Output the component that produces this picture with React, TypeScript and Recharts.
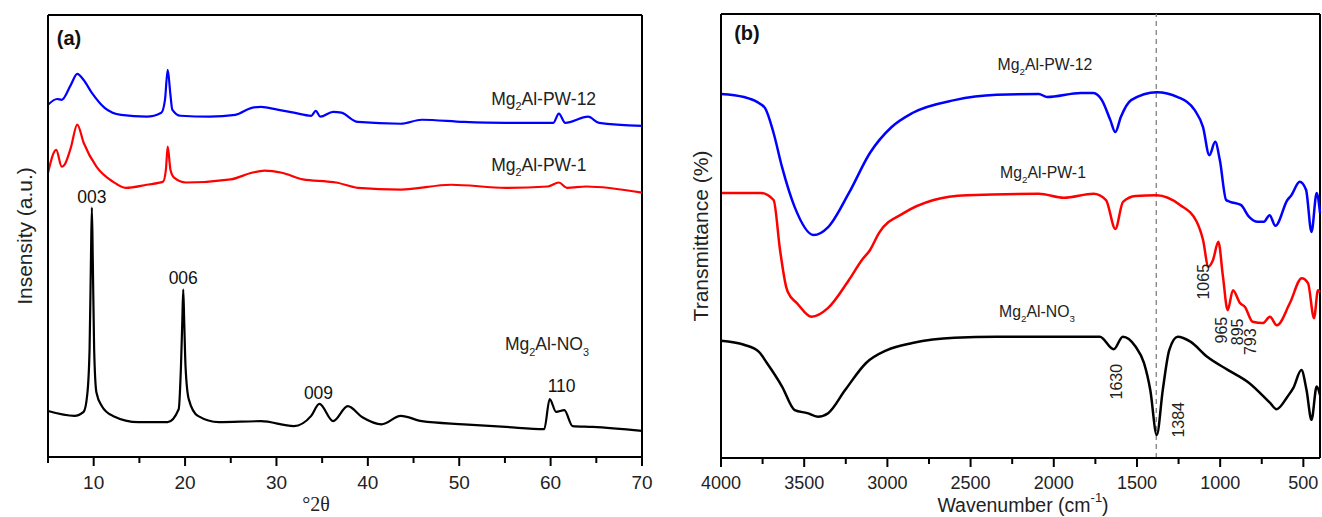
import { LineChart, Line, XAxis, YAxis, ReferenceLine, ReferenceDot, Label } from 'recharts'

const FONT = '"Liberation Sans", Arial, Helvetica, sans-serif'

// ---- (a) XRD patterns: [2θ, intensity (a.u., offset)] ----
const xrdPW12: [number, number][] = [
  [5, 79.7], [6.0, 81.0], [6.5, 80.8], [7.5, 84.2], [8.2, 86.7], [8.9, 85.3], [9.8, 82.4], [11.2, 79.0],
  [13.0, 77.4], [15.8, 77.0], [17.4, 77.9], [17.8, 80.8], [18.1, 87.6], [18.4, 81.9],
  [18.6, 78.6], [19.5, 77.2], [22.7, 77.0], [25.5, 77.4], [27.3, 79.0], [28.3, 79.2],
  [30.1, 78.6], [31.9, 77.9], [33.8, 77.2], [34.3, 78.3], [34.8, 77.0], [36.2, 78.1],
  [37.1, 77.9], [38.9, 75.8], [43.6, 75.4], [45.9, 76.3], [50.5, 75.8], [55.1, 75.6],
  [60.3, 75.6], [60.9, 77.7], [61.6, 75.6], [64.1, 77.0], [65.3, 75.6], [70, 74.9],
]

const xrdPW1: [number, number][] = [
  [5, 64.3], [5.9, 69.5], [6.5, 65.7], [6.8, 66.1], [7.5, 70.0], [8.2, 75.2], [8.9, 71.1],
  [10.3, 65.7], [12.1, 62.3], [13.5, 60.9], [15.8, 61.6], [17.6, 62.3], [17.9, 65.0],
  [18.1, 70.2], [18.4, 65.0], [18.8, 63.2], [20.1, 62.1], [25, 62.8], [27.3, 64.3],
  [28.7, 64.8], [30.6, 64.3], [32.9, 62.8], [35.6, 62.3], [36.5, 62.1], [38.9, 60.9],
  [43.6, 60.5], [49.1, 61.6], [55.1, 60.9], [59.7, 61.2], [60.9, 62.1], [61.8, 60.9],
  [63.9, 61.2], [70, 59.8],
]

const xrdNO3: [number, number][] = [
  [5, 10.4], [7.9, 9.3], [8.9, 10.2], [9.3, 14.2], [9.55, 24.4], [9.7, 44.7], [9.8, 56.4],
  [9.9, 44.7], [10.05, 24.4], [10.3, 14.6], [10.9, 11.5], [12.1, 9.3], [14.9, 7.9],
  [18.1, 7.9], [19.3, 10.8], [19.55, 20.5], [19.7, 31.0], [19.8, 37.9], [19.9, 31.0],
  [20.05, 20.5], [20.4, 13.1], [21.4, 9.3], [23.7, 7.9], [28.3, 8.1],
  [31.9, 7.0], [33.8, 9.3], [34.7, 12.0], [36.2, 8.1], [37.8, 11.5], [39.4, 9.0],
  [41.5, 7.4], [43.6, 9.3], [45.9, 8.1], [50.5, 7.4], [55.1, 6.8], [59.3, 6.3],
  [59.9, 13.1], [60.6, 10.2], [61.5, 10.6], [62.4, 7.0], [64.6, 6.8], [70, 5.9],
]

const xrdTicks = [5, 10, 15, 20, 25, 30, 35, 40, 45, 50, 55, 60, 65, 70]

// ---- (b) FTIR spectra: [wavenumber, transmittance (a.u., offset)] ----
const irPW12: [number, number][] = [
  [4000, 82.0], [3862, 81.3], [3784, 80.2], [3735, 78.8], [3684, 73.2], [3633, 65.5],
  [3557, 56.5], [3443, 50.2], [3356, 52.0], [3231, 59.7], [3105, 68.7], [2976, 74.5],
  [2850, 77.7], [2597, 80.6], [2344, 81.8], [2090, 82.0], [2040, 81.3], [1837, 82.2],
  [1762, 82.2], [1711, 80.6], [1660, 76.1], [1630, 73.4], [1597, 76.8], [1535, 80.6],
  [1381, 82.4], [1255, 81.3], [1154, 78.4], [1103, 74.5], [1065, 68.2], [1030, 71.2],
  [1002, 67.1], [964, 58.1], [940, 57.7], [876, 57.0], [826, 54.3], [775, 53.2],
  [737, 53.2], [703, 54.7], [668, 52.3], [596, 58.1], [572, 59.2], [522, 62.2],
  [484, 60.4], [451, 50.9], [420, 59.7], [400, 55.2],
]

const irPW1: [number, number][] = [
  [4000, 59.7], [3760, 59.7], [3684, 58.1], [3645, 46.8], [3608, 38.5], [3596, 37.2],
  [3544, 34.9], [3456, 31.8], [3356, 33.8], [3231, 40.1], [3153, 44.6], [3105, 46.8],
  [3050, 50.7], [2900, 55.2], [2722, 58.1], [2521, 59.2], [2090, 59.5], [1939, 58.6],
  [1761, 59.5], [1686, 58.1], [1630, 51.6], [1584, 57.7], [1508, 59.0], [1382, 59.2],
  [1241, 57.0], [1141, 53.2], [1103, 49.1], [1071, 43.1], [1043, 44.6], [1011, 48.7],
  [983, 40.8], [955, 33.3], [923, 37.8], [881, 34.9], [851, 34.0], [805, 30.7],
  [743, 30.4], [701, 31.8], [659, 29.9], [581, 34.9], [510, 40.5], [472, 39.4],
  [436, 31.5], [412, 37.8], [400, 37.4],
]

const irNO3: [number, number][] = [
  [4000, 26.4], [3862, 25.5], [3772, 23.9], [3724, 21.4], [3633, 16.1], [3557, 10.8],
  [3481, 10.1], [3418, 9.3], [3356, 10.1], [3254, 15.3], [3128, 21.4], [3002, 24.3],
  [2850, 25.9], [2597, 27.1], [2344, 27.3], [1838, 27.3], [1723, 27.3], [1640, 24.5],
  [1585, 27.3], [1509, 25.1], [1458, 21.4], [1420, 15.3], [1381, 5.2], [1345, 15.3],
  [1306, 24.3], [1255, 27.3], [1179, 26.2], [1078, 22.8], [952, 19.8], [826, 16.9],
  [700, 12.4], [661, 11.0], [596, 13.8], [560, 15.8], [512, 19.8], [481, 15.3],
  [451, 8.6], [420, 16.1], [400, 14.2],
]

const irTicks = [4000, 3750, 3500, 3250, 3000, 2750, 2500, 2250, 2000, 1750, 1500, 1250, 1000, 750, 500]

// text parts: [text, isSubscript]
type Part = [string, boolean]
const namePW12: Part[] = [['Mg', false], ['2', true], ['Al-PW-12', false]]
const namePW1: Part[] = [['Mg', false], ['2', true], ['Al-PW-1', false]]
const nameNO3: Part[] = [['Mg', false], ['2', true], ['Al-NO', false], ['3', true]]

// annotation anchors [x, y] in data units
const xrdNotes: { at: [number, number]; text: string }[] = [
  { at: [9.8, 58.9], text: '003' },
  { at: [19.8, 40.4], text: '006' },
  { at: [34.6, 14.4], text: '009' },
  { at: [61.2, 16.0], text: '110' },
]
const xrdNames: { at: [number, number]; parts: Part[] }[] = [
  { at: [53.5, 81.0], parts: namePW12 },
  { at: [53.5, 66.1], parts: namePW1 },
  { at: [55.0, 25.5], parts: nameNO3 },
]
const irNames: { at: [number, number]; parts: Part[] }[] = [
  { at: [2053, 88.5], parts: namePW12 },
  { at: [2065, 64.2], parts: namePW1 },
  { at: [2101, 32.9], parts: nameNO3 },
]
const irBands: { at: [number, number]; text: string }[] = [
  { at: [1622, 17.2], text: '1630' },
  { at: [1250, 8.6], text: '1384' },
  { at: [1103, 39.7], text: '1065' },
  { at: [991, 28.8], text: '965' },
  { at: [893, 28.4], text: '895' },
  { at: [817, 26.2], text: '793' },
]

const toPts = (arr: [number, number][]) => arr.map(([x, v]) => ({ x, v }))

function partsSpans(parts: Part[], size: number) {
  let prev = false
  return parts.map(([t, sub], i) => {
    const dy = sub === prev ? 0 : sub ? size * 0.3 : -size * 0.3
    prev = sub
    return (
      <tspan key={i} dy={dy} fontSize={sub ? size * 0.62 : size}>
        {t}
      </tspan>
    )
  })
}

const makeTick = (isMajor: (v: number) => boolean, size: number) => (props: any) => {
  const { x, y, payload } = props
  const major = isMajor(payload.value)
  return (
    <g>
      <line x1={x} x2={x} y1={y} y2={y + (major ? 9 : 6)} stroke="#000" strokeWidth={2} />
      {major && (
        <text x={x} y={y + 25} textAnchor="middle" dominantBaseline="central" fontSize={size} fill="#222" fontFamily={FONT}>
          {payload.value}
        </text>
      )}
    </g>
  )
}

const tickA = makeTick((v) => v % 10 === 0, 19)
const tickB = makeTick((v) => v % 500 === 0, 18)

const axisLine = { stroke: '#000', strokeWidth: 2 }

function App() {
  return (
    <div style={{ position: 'absolute', left: 0, top: 0, width: 1322, height: 517, background: '#fff', fontFamily: FONT }}>
      {/* (a) XRD */}
      <div style={{ position: 'absolute', left: 0, top: 0 }}>
        <LineChart width={660} height={517} margin={{ top: 15, right: 18, bottom: 0, left: 0 }}>
          <XAxis
            dataKey="x"
            type="number"
            domain={[5, 70]}
            ticks={xrdTicks}
            interval={0}
            tick={tickA}
            tickLine={false}
            tickSize={0}
            tickMargin={0}
            axisLine={axisLine}
            height={60}
          >
            <Label
              content={({ viewBox }: any) => (
                <text x={viewBox.x + 268} y={viewBox.y + 47} textAnchor="middle" dominantBaseline="central" fontSize={20} fill="#222" fontFamily='"Liberation Serif", "Times New Roman", serif'>
                  °2θ
                </text>
              )}
            />
          </XAxis>
          <YAxis domain={[0, 100]} type="number" tick={false} tickLine={false} axisLine={axisLine} width={48}>
            <Label
              content={({ viewBox }: any) => {
                const cx = viewBox.x + 24
                const cy = viewBox.y + viewBox.height / 2
                return (
                  <text x={cx} y={cy} transform={`rotate(-90 ${cx} ${cy})`} textAnchor="middle" dominantBaseline="central" fontSize={21} fill="#222" fontFamily={FONT}>
                    Insensity (a.u.)
                  </text>
                )
              }}
            />
          </YAxis>
          <ReferenceLine y={100} stroke="#000" strokeWidth={2} />
          <ReferenceLine x={70} stroke="#000" strokeWidth={2} />
          <Line data={toPts(xrdPW12)} dataKey="v" type="monotone" stroke="#0000ff" strokeWidth={2.2} dot={false} isAnimationActive={false} />
          <Line data={toPts(xrdPW1)} dataKey="v" type="monotone" stroke="#ff0000" strokeWidth={2.2} dot={false} isAnimationActive={false} />
          <Line data={toPts(xrdNO3)} dataKey="v" type="monotone" stroke="#000000" strokeWidth={2.2} dot={false} isAnimationActive={false} />
          <ReferenceDot
            x={7.3}
            y={94.8}
            r={0}
            shape={(p: any) => (
              <text x={p.cx} y={p.cy} textAnchor="middle" dominantBaseline="central" fontSize={20} fontWeight="bold" fill="#111" fontFamily={FONT}>
                (a)
              </text>
            )}
          />
          {xrdNotes.map((n) => (
            <ReferenceDot
              key={n.text}
              x={n.at[0]}
              y={n.at[1]}
              r={0}
              shape={(p: any) => (
                <text x={p.cx} y={p.cy} textAnchor="middle" dominantBaseline="central" fontSize={17.5} fill="#111" fontFamily={FONT}>
                  {n.text}
                </text>
              )}
            />
          ))}
          {xrdNames.map((n, i) => (
            <ReferenceDot
              key={i}
              x={n.at[0]}
              y={n.at[1]}
              r={0}
              shape={(p: any) => (
                <text x={p.cx} y={p.cy + 6} textAnchor="start" fill="#222" fontFamily={FONT}>
                  {partsSpans(n.parts, 17.5)}
                </text>
              )}
            />
          ))}
        </LineChart>
      </div>

      {/* (b) FTIR */}
      <div style={{ position: 'absolute', left: 660, top: 0 }}>
        <LineChart width={662} height={517} margin={{ top: 14, right: 2, bottom: 0, left: 0 }}>
          <XAxis
            dataKey="x"
            type="number"
            domain={[400, 4000]}
            reversed
            ticks={irTicks}
            interval={0}
            tick={tickB}
            tickLine={false}
            tickSize={0}
            tickMargin={0}
            axisLine={axisLine}
            height={59}
          >
            <Label
              content={({ viewBox }: any) => {
                const cx = viewBox.x + 302
                const cy = viewBox.y + 47
                return (
                  <text x={cx} y={cy} textAnchor="middle" dominantBaseline="central" fill="#222" fontFamily={FONT}>
                    <tspan fontSize={19.5}>Wavenumber (cm</tspan>
                    <tspan fontSize={13} dy={-8}>-1</tspan>
                    <tspan fontSize={19.5} dy={8}>)</tspan>
                  </text>
                )
              }}
            />
          </XAxis>
          <YAxis domain={[0, 100]} type="number" tick={false} tickLine={false} axisLine={axisLine} width={61}>
            <Label
              content={({ viewBox }: any) => {
                const cx = viewBox.x + 40
                const cy = viewBox.y + viewBox.height / 2
                return (
                  <text x={cx} y={cy} transform={`rotate(-90 ${cx} ${cy})`} textAnchor="middle" dominantBaseline="central" fontSize={21} fill="#222" fontFamily={FONT}>
                    Transmittance (%)
                  </text>
                )
              }}
            />
          </YAxis>
          <ReferenceLine y={100} stroke="#000" strokeWidth={2} />
          <ReferenceLine x={400} stroke="#000" strokeWidth={2} />
          <ReferenceLine x={1384} stroke="#808080" strokeWidth={1.3} strokeDasharray="5 4" />
          <Line data={toPts(irPW12)} dataKey="v" type="monotone" stroke="#0000ff" strokeWidth={2.5} dot={false} isAnimationActive={false} />
          <Line data={toPts(irPW1)} dataKey="v" type="monotone" stroke="#ff0000" strokeWidth={2.5} dot={false} isAnimationActive={false} />
          <Line data={toPts(irNO3)} dataKey="v" type="monotone" stroke="#000000" strokeWidth={2.5} dot={false} isAnimationActive={false} />
          <ReferenceDot
            x={3844}
            y={95.7}
            r={0}
            shape={(p: any) => (
              <text x={p.cx} y={p.cy} textAnchor="middle" dominantBaseline="central" fontSize={20} fontWeight="bold" fill="#111" fontFamily={FONT}>
                (b)
              </text>
            )}
          />
          {irNames.map((n, i) => (
            <ReferenceDot
              key={i}
              x={n.at[0]}
              y={n.at[1]}
              r={0}
              shape={(p: any) => (
                <text x={p.cx} y={p.cy + 5} textAnchor="middle" fill="#222" fontFamily={FONT}>
                  {partsSpans(n.parts, 15.8)}
                </text>
              )}
            />
          ))}
          {irBands.map((n) => (
            <ReferenceDot
              key={n.text}
              x={n.at[0]}
              y={n.at[1]}
              r={0}
              shape={(p: any) => (
                <text
                  x={p.cx}
                  y={p.cy}
                  transform={`rotate(-90 ${p.cx} ${p.cy})`}
                  textAnchor="middle"
                  dominantBaseline="central"
                  fontSize={16}
                  fill="#222"
                  fontFamily={FONT}
                >
                  {n.text}
                </text>
              )}
            />
          ))}
        </LineChart>
      </div>
    </div>
  )
}

export default App
